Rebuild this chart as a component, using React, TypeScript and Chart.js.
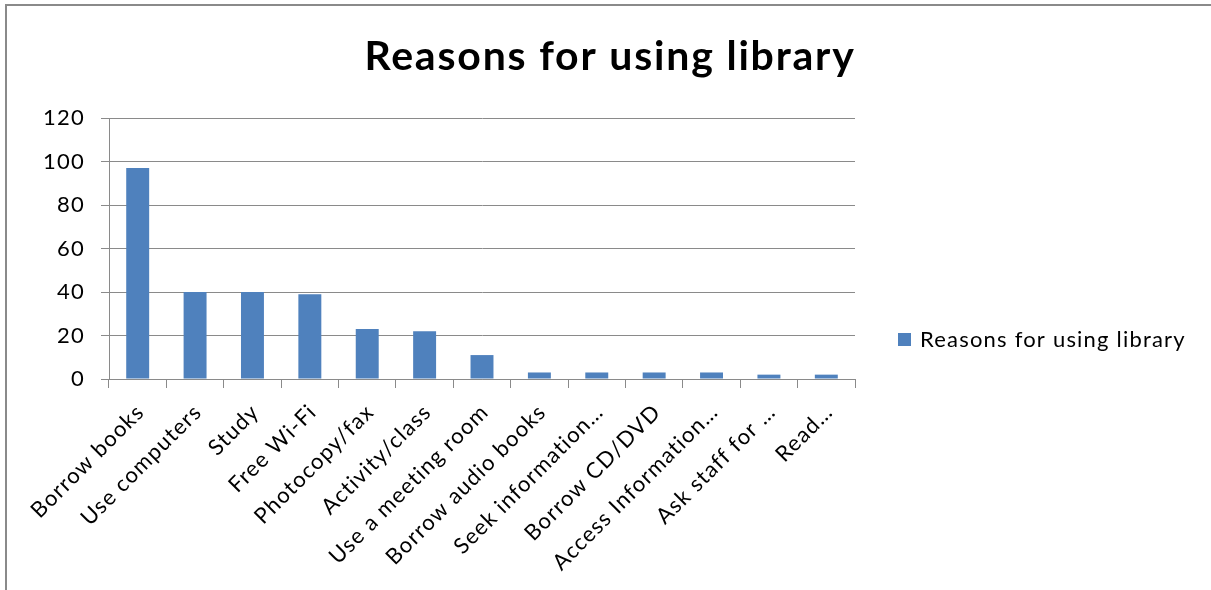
import React, { useEffect, useRef } from "react";
import { Chart, registerables } from "chart.js";

Chart.register(...registerables);

const TITLE = "Reasons for using library";
const SERIES_LABEL = "Reasons for using library";

const categories = [
  "Borrow books",
  "Use computers",
  "Study",
  "Free Wi-Fi",
  "Photocopy/fax",
  "Activity/class",
  "Use a meeting room",
  "Borrow audio books",
  "Seek information…",
  "Borrow CD/DVD",
  "Access Information…",
  "Ask staff for …",
  "Read…",
];

const counts = [97, 40, 40, 39, 23, 22, 11, 3, 3, 3, 3, 2, 2];

const yTicks = [0, 20, 40, 60, 80, 100, 120];

const BAR_COLOR = "#4f81bd";
const LINE_COLOR = "#8a8a8a";
const FONT = "Lato, 'Open Sans', sans-serif";

// Slightly open tracking for all axis text, like hinted office rendering
const spacingPlugin = {
  id: "spacing",
  beforeDraw(chart: any) {
    chart.ctx.letterSpacing = "1.2px";
  },
};

// Title and a right-hand legend, placed like an office-style chart
const decorPlugin = {
  id: "decor",
  afterDraw(chart: any) {
    const ctx = chart.ctx;
    ctx.save();
    ctx.fillStyle = "#000";
    ctx.letterSpacing = "1.8px";
    ctx.font = `bold 41px ${FONT}`;
    ctx.textAlign = "center";
    ctx.textBaseline = "alphabetic";
    ctx.fillText(TITLE, 610, 70);

    const ds = chart.data.datasets[0];
    ctx.fillStyle = ds.backgroundColor;
    ctx.fillRect(898, 333, 13, 13);
    ctx.fillStyle = "#000";
    ctx.letterSpacing = "1.2px";
    ctx.font = `22px ${FONT}`;
    ctx.textAlign = "left";
    ctx.textBaseline = "middle";
    ctx.fillText(ds.label, 920, 340);
    ctx.restore();
  },
};

export default function App() {
  const canvasRef = useRef<HTMLCanvasElement | null>(null);

  useEffect(() => {
    let chart: Chart | null = null;
    let cancelled = false;
    const build = () => {
      if (cancelled || !canvasRef.current) return;
      chart = new Chart(canvasRef.current, {
        type: "bar",
        data: {
          labels: categories,
          datasets: [
            {
              label: SERIES_LABEL,
              data: counts,
              backgroundColor: BAR_COLOR,
              barPercentage: 0.4,
              categoryPercentage: 1.0,
            },
          ],
        },
        options: {
          animation: false,
          responsive: false,
          devicePixelRatio: 1,
          layout: { padding: { top: 118, left: 0, right: 356, bottom: 0 } },
          plugins: {
            legend: { display: false },
            title: { display: false },
            tooltip: { enabled: false },
          },
          scales: {
            x: {
              type: "category",
              offset: true,
              grid: {
                offset: true,
                drawOnChartArea: false,
                drawTicks: true,
                tickLength: 9,
                color: LINE_COLOR,
              },
              border: { display: true, color: LINE_COLOR },
              ticks: {
                autoSkip: false,
                maxRotation: 45,
                minRotation: 45,
                padding: 11,
                labelOffset: 3,
                color: "#000",
                font: { family: FONT, size: 22 },
              },
              afterFit: (scale: any) => {
                scale.height = 211;
              },
            },
            y: {
              min: yTicks[0],
              max: yTicks[yTicks.length - 1],
              afterBuildTicks: (scale: any) => {
                scale.ticks = yTicks.map((v) => ({ value: v }));
              },
              grid: { color: LINE_COLOR, tickLength: 8 },
              border: { display: true, color: LINE_COLOR },
              ticks: {
                padding: 16,
                color: "#000",
                font: { family: FONT, size: 22 },
              },
              afterFit: (scale: any) => {
                scale.width = 109;
              },
            },
          },
        },
        plugins: [spacingPlugin, decorPlugin],
      });
    };
    const fontsReady = (document as any).fonts
      ? Promise.all([
          (document as any).fonts.load(`22px Lato`),
          (document as any).fonts.load(`bold 41px Lato`),
        ]).catch(() => null)
      : Promise.resolve(null);
    fontsReady.then(build);
    return () => {
      cancelled = true;
      if (chart) chart.destroy();
    };
  }, []);

  return (
    <div
      style={{
        position: "fixed",
        left: 0,
        top: 0,
        width: 1211,
        height: 590,
        background: "#fff",
        overflow: "hidden",
      }}
    >
      <div
        style={{
          position: "absolute",
          left: 5,
          top: 4,
          right: 0,
          bottom: 0,
          borderTop: `2px solid ${LINE_COLOR}`,
          borderLeft: `2px solid ${LINE_COLOR}`,
        }}
      />
      <canvas
        ref={canvasRef}
        width={1211}
        height={590}
        style={{ position: "absolute", left: 0, top: 0, width: 1211, height: 590 }}
      />
    </div>
  );
}
